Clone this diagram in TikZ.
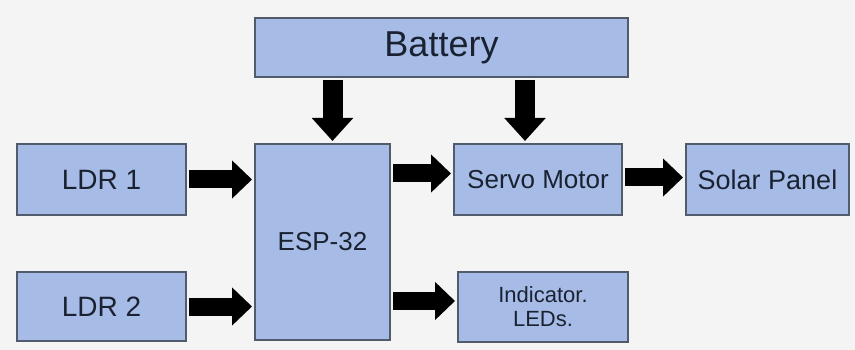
\documentclass[tikz,border=0pt]{standalone}
\usepackage{fontspec}
\setmainfont{Liberation Sans}
\usetikzlibrary{arrows.meta}
\definecolor{boxfill}{HTML}{A6BCE6}
\definecolor{boxline}{HTML}{505C6C}
\definecolor{boxtext}{HTML}{1A2232}
\definecolor{bg}{HTML}{F4F4F4}
\tikzset{
  blk/.style={rectangle, draw=boxline, line width=1.8pt, fill=boxfill,
    text=boxtext, inner sep=0pt, outer sep=0pt, align=center},
  fat/.style={draw=black, line width=18pt,
    -{Triangle[width=37pt,length=20pt]}, shorten <=3pt, shorten >=3pt},
  fatv/.style={draw=black, line width=20pt,
    -{Triangle[width=40pt,length=23pt]}, shorten <=3pt, shorten >=3pt}
}
\begin{document}
\begin{tikzpicture}[x=1pt,y=-1pt]
\fill[bg] (0,0) rectangle (855,350);
\useasboundingbox (0,0) rectangle (855,350);
\node[blk, minimum width=373pt, minimum height=59pt, font=\fontsize{36}{40}\selectfont] (bat) at (441.5,47.5) {Battery};
\node[blk, minimum width=135pt, minimum height=196pt, font=\fontsize{26}{30}\selectfont] (esp) at (322.5,242) {ESP-32};
\node[blk, minimum width=169pt, minimum height=71pt, font=\fontsize{28}{32}\selectfont] (ldr1) at (101.5,179.5) {LDR 1};
\node[blk, minimum width=169pt, minimum height=69pt, font=\fontsize{28}{32}\selectfont] (ldr2) at (101.5,306.5) {LDR 2};
\node[blk, minimum width=168pt, minimum height=71pt, font=\fontsize{26}{30}\selectfont] (servo) at (538,179.5) {Servo Motor};
\node[blk, minimum width=163pt, minimum height=71pt, font=\fontsize{27}{31}\selectfont] (solar) at (767.5,179.5) {Solar Panel};
\node[blk, minimum width=170pt, minimum height=70pt, font=\fontsize{22}{24}\selectfont] (led) at (543,307) {Indicator.\\LEDs.};
% connectors
\draw[fatv] ([xshift=10pt]esp.north |- bat.south) -- ([xshift=10pt]esp.north);
\draw[fatv] ([xshift=-13pt]servo.north |- bat.south) -- ([xshift=-13pt]servo.north);
\draw[fat] (ldr1.east) -- (ldr1.east -| esp.west);
\draw[fat] (ldr2.east) -- (ldr2.east -| esp.west);
\draw[fat] ([yshift=6pt]servo.west -| esp.east) -- ([yshift=6pt]servo.west);
\draw[fat] ([yshift=6pt]led.west -| esp.east) -- ([yshift=6pt]led.west);
\draw[fat] ([yshift=2pt]servo.east) -- ([yshift=2pt]solar.west);
\end{tikzpicture}
\end{document}
